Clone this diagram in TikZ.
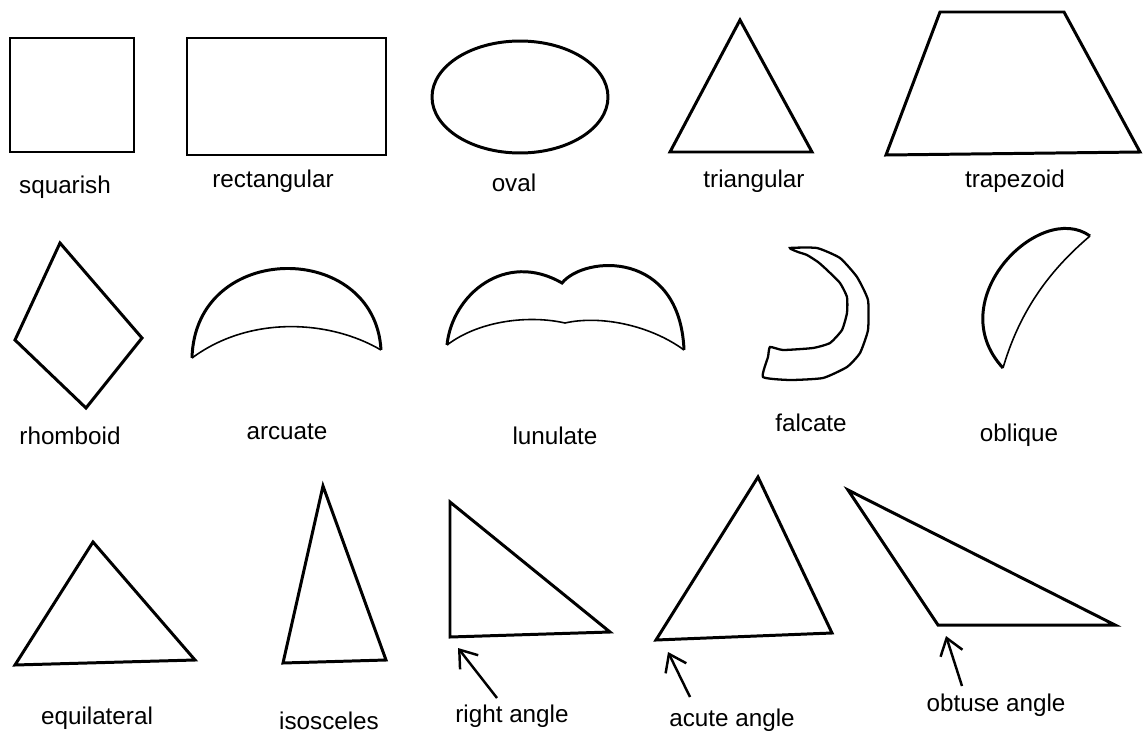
\documentclass[tikz,border=0pt]{standalone}
\usepackage{fontspec}
\setmainfont{Liberation Sans}
\usepackage{tikz}
\usetikzlibrary{arrows.meta}

\begin{document}
\begin{tikzpicture}[x=0.02cm, y=-0.02cm]
    \tikzstyle{outline} = [draw=black, line width=1.7pt, line join=miter]
    \tikzstyle{thinline} = [draw=black, line width=0.9pt]
    \tikzstyle{lbl} = [font=\fontsize{13.8}{16}\selectfont, inner sep=0pt]
    \tikzstyle{pointer} = [line width=1.4pt, -{Straight Barb[length=3.2mm, width=4.6mm, line width=1.4pt]}]

    \useasboundingbox (0,0) rectangle (1147,734);

    % first row
    \draw[outline] (10,38) rectangle (134,152);
    \draw[outline] (187,38) rectangle (386,155);
    \draw[outline] (520,97) ellipse [x radius=1.76cm, y radius=1.12cm];
    \draw[outline] (670,152) -- (740,20) -- (812,152) -- cycle;
    \draw[outline] (886,155) -- (940,12) -- (1064,12) -- (1140,152) -- cycle;

    \node[lbl] (squarish) at (65,187) {squarish};
    \node[lbl] (rectangular) at (273,181) {rectangular};
    \node[lbl] (oval) at (514,183) {oval};
    \node[lbl] (triangular) at (754,181) {triangular};
    \node[lbl] (trapezoid) at (1015,181) {trapezoid};

    % second row
    \draw[outline] (60,243) -- (142,338) -- (86,408) -- (15,340) -- cycle;
    \draw[outline] (192,358) .. controls (195,240) and (375,240) .. (381,350);
    \draw[thinline] (381,350) .. controls (330,320) and (250,315) .. (192,358);
    \draw[outline] (447,345) .. controls (452,295) and (505,250) .. (562,283)
        .. controls (585,255) and (680,250) .. (684,350);
    \draw[thinline] (684,350) .. controls (650,325) and (600,315) .. (565,323)
        .. controls (530,315) and (480,320) .. (447,345);
    \draw[outline, line width=1.3pt] plot[smooth cycle, tension=0.3] coordinates {
        (790,248) (817,248) (840,258) (857,277) (868,300) (868,330) (860,353)
        (847,367) (823,378) (790,380) (763,377) (768,357) (770,347) (783,350)
        (813,348) (830,343) (842,330) (847,313) (847,297) (840,283) (827,270)
        (818,262) (807,255) (798,252)};
    \draw[outline] (1090,236) .. controls (1040,200) and (940,300) .. (1003,368);
    \draw[thinline] (1003,368) .. controls (1020,310) and (1050,270) .. (1090,236);

    \node[lbl] (rhomboid) at (70,436) {rhomboid};
    \node[lbl] (arcuate) at (287,432) {arcuate};
    \node[lbl] (lunulate) at (555,436) {lunulate};
    \node[lbl] (falcate) at (811,423) {falcate};
    \node[lbl] (oblique) at (1019,435) {oblique};

    % third row
    \draw[outline] (15,665) -- (93,542) -- (195,660) -- cycle;
    \draw[outline] (283,663) -- (323,486) -- (386,660) -- cycle;
    \draw[outline] (450,637) -- (450,502) -- (610,632) -- cycle;
    \draw[outline] (656,640) -- (758,477) -- (832,633) -- cycle;
    \draw[outline] (848,490) -- (938,625) -- (1115,625) -- cycle;

    \node[lbl] (equilateral) at (97,718) {equilateral};
    \node[lbl] (isosceles) at (329,721) {isosceles};
    \node[lbl] (rightangle) at (512,716) {right angle};
    \node[lbl] (acuteangle) at (732,720) {acute angle};
    \node[lbl] (obtuseangle) at (996,705) {obtuse angle};

    \coordinate (rtail) at (497,698);
    \coordinate (rtip) at (458,648);
    \coordinate (atail) at (690,697);
    \coordinate (atip) at (668,652);
    \coordinate (otail) at (962,686);
    \coordinate (otip) at (946,636);
    \draw[pointer] (rtail) -- (rtip);
    \draw[pointer] (atail) -- (atip);
    \draw[pointer] (otail) -- (otip);
\end{tikzpicture}
\end{document}
